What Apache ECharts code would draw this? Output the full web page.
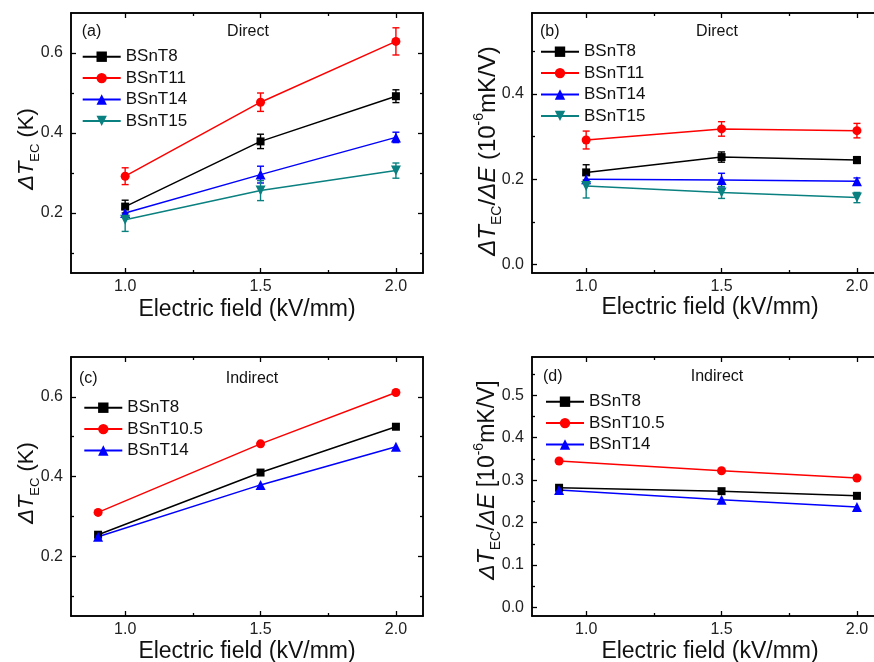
<!DOCTYPE html>
<html><head><meta charset="utf-8">
<script src="https://cdn.jsdelivr.net/npm/echarts@6/dist/echarts.min.js"></script>
<style>html,body{margin:0;padding:0;background:#fff}#c{width:874px;height:662px}</style>
</head><body><div id="c"></div>
<script>
const FONT = 'Liberation Sans, Arial, sans-serif';

// ---- data ----
const fieldDirect = [1.0, 1.5, 2.0];
const fieldIndirect = [0.9, 1.5, 2.0];

// (a) direct ΔT (K) and error
const dT_BSnT8 = [0.216, 0.379, 0.492];
const dT_BSnT8_err = [0.016, 0.018, 0.016];
const dT_BSnT11 = [0.292, 0.477, 0.629];
const dT_BSnT11_err = [0.021, 0.023, 0.034];
const dT_BSnT14 = [0.200, 0.296, 0.389];
const dT_BSnT14_err = [0.010, 0.021, 0.013];
const dT_BSnT15 = [0.183, 0.256, 0.306];
const dT_BSnT15_err = [0.029, 0.025, 0.019];

// (b) direct ΔT/ΔE and error
const r_BSnT8 = [0.216, 0.252, 0.245];
const r_BSnT8_err = [0.018, 0.012, 0.008];
const r_BSnT11 = [0.292, 0.318, 0.314];
const r_BSnT11_err = [0.021, 0.017, 0.017];
const r_BSnT14 = [0.200, 0.198, 0.195];
const r_BSnT14_err = [0.010, 0.016, 0.008];
const r_BSnT15 = [0.184, 0.169, 0.157];
const r_BSnT15_err = [0.028, 0.014, 0.012];

// (c) indirect ΔT (K)
const ind_dT_BSnT8 = [0.254, 0.410, 0.525];
const ind_dT_BSnT105 = [0.310, 0.482, 0.611];
const ind_dT_BSnT14 = [0.249, 0.379, 0.475];

// (d) indirect ΔT/ΔE
const ind_r_BSnT8 = [0.282, 0.274, 0.263];
const ind_r_BSnT105 = [0.345, 0.322, 0.305];
const ind_r_BSnT14 = [0.277, 0.254, 0.237];

// tick values
const xMajor = [1.0, 1.5, 2.0];
const xMinor = [1.25, 1.75];
const yMajorA = [0.2, 0.4, 0.6];
const yMinorA = [0.1, 0.3, 0.5];
const yMajorB = [0.0, 0.2, 0.4];
const yMinorB = [0.1, 0.3, 0.5];
const yMajorD = [0.0, 0.1, 0.2, 0.3, 0.4, 0.5];
const yMinorD = [0.05, 0.15, 0.25, 0.35, 0.45, 0.55];

// ---- styles ----
const STY = {
  BSnT8: {color: '#000000', symbol: 'rect', size: 8, rot: 0},
  BSnT11: {color: '#ff0000', symbol: 'circle', size: 9, rot: 0},
  'BSnT10.5': {color: '#ff0000', symbol: 'circle', size: 9, rot: 0},
  BSnT14: {color: '#0000ff', symbol: 'triangle', size: 10, rot: 0},
  BSnT15: {color: '#0a8080', symbol: 'triangle', size: 10, rot: 180}
};

// right-hand panels are cut by the picture edge (axis would end at 2.1 beyond it)
const grids = [
  {left: 71, top: 13, width: 352, height: 260},
  {left: 532, top: 13, width: 342, height: 260},
  {left: 71, top: 357, width: 352, height: 259},
  {left: 532, top: 357, width: 342, height: 259}
];
const xRanges = [[0.8, 2.1], [0.8, 2.063], [0.8, 2.1], [0.8, 2.063]];
const yRanges = [[0.05, 0.70], [-0.02, 0.59], [0.05, 0.70], [-0.02, 0.59]];
const yTicks = [[yMajorA, yMinorA], [yMajorB, yMinorB], [yMajorA, yMinorA], [yMajorD, yMinorD]];
const hasRight = [true, false, true, false];

const xAxes = [], yAxes = [];
function axis(g, pos, min, max, vals, len, labels, showLine) {
  return {
    type: 'value', gridIndex: g, position: pos, min: min, max: max,
    axisLine: {show: showLine !== false, onZero: false, lineStyle: {color: '#000', width: 1.5}},
    axisTick: {show: showLine !== false, inside: true, length: len, customValues: vals, lineStyle: {color: '#000', width: 1.3}},
    axisLabel: labels ? {show: true, customValues: vals, formatter: v => v.toFixed(1), fontSize: 16,
      color: '#222', fontFamily: FONT, margin: pos === 'left' ? 8 : 6} : {show: false},
    splitLine: {show: false}
  };
}
grids.forEach((gr, g) => {
  const xr = xRanges[g];
  xAxes.push(axis(g, 'bottom', xr[0], xr[1], xMajor, 5, true));
  xAxes.push(axis(g, 'bottom', xr[0], xr[1], xMinor, 3, false));
  xAxes.push(axis(g, 'top', xr[0], xr[1], xMajor, 5, false));
  xAxes.push(axis(g, 'top', xr[0], xr[1], xMinor, 3, false));
  const yr = yRanges[g], yt = yTicks[g];
  yAxes.push(axis(g, 'left', yr[0], yr[1], yt[0], 5, true));
  yAxes.push(axis(g, 'left', yr[0], yr[1], yt[1], 3, false));
  yAxes.push(axis(g, 'right', yr[0], yr[1], yt[0], 5, false, hasRight[g]));
  yAxes.push(axis(g, 'right', yr[0], yr[1], yt[1], 3, false, hasRight[g]));
});

const series = [];
function addLine(g, name, xs, ys, errs) {
  const s = STY[name];
  series.push({
    type: 'line', name: name, xAxisIndex: 4 * g, yAxisIndex: 4 * g,
    data: xs.map((x, i) => [x, ys[i]]),
    symbol: s.symbol, symbolSize: s.size, symbolRotate: s.rot, showSymbol: true,
    lineStyle: {color: s.color, width: 1.5}, itemStyle: {color: s.color},
    emphasis: {disabled: true}, animation: false, z: 3
  });
  if (errs) {
    series.push({
      type: 'custom', name: name + ' err', xAxisIndex: 4 * g, yAxisIndex: 4 * g,
      data: xs.map((x, i) => [x, ys[i], errs[i]]),
      encode: {x: 0, y: 1},
      renderItem: function (params, api) {
        const x = api.value(0), y = api.value(1), e = api.value(2);
        const t = api.coord([x, y + e]), b = api.coord([x, y - e]);
        const w = 3.5;
        const st = {stroke: s.color, lineWidth: 1.4};
        return {type: 'group', children: [
          {type: 'line', shape: {x1: t[0], y1: t[1], x2: b[0], y2: b[1]}, style: st},
          {type: 'line', shape: {x1: t[0] - w, y1: t[1], x2: t[0] + w, y2: t[1]}, style: st},
          {type: 'line', shape: {x1: b[0] - w, y1: b[1], x2: b[0] + w, y2: b[1]}, style: st}
        ]};
      },
      animation: false, z: 2, silent: true
    });
  }
}
addLine(0, 'BSnT8', fieldDirect, dT_BSnT8, dT_BSnT8_err);
addLine(0, 'BSnT11', fieldDirect, dT_BSnT11, dT_BSnT11_err);
addLine(0, 'BSnT14', fieldDirect, dT_BSnT14, dT_BSnT14_err);
addLine(0, 'BSnT15', fieldDirect, dT_BSnT15, dT_BSnT15_err);
addLine(1, 'BSnT8', fieldDirect, r_BSnT8, r_BSnT8_err);
addLine(1, 'BSnT11', fieldDirect, r_BSnT11, r_BSnT11_err);
addLine(1, 'BSnT14', fieldDirect, r_BSnT14, r_BSnT14_err);
addLine(1, 'BSnT15', fieldDirect, r_BSnT15, r_BSnT15_err);
addLine(2, 'BSnT8', fieldIndirect, ind_dT_BSnT8);
addLine(2, 'BSnT10.5', fieldIndirect, ind_dT_BSnT105);
addLine(2, 'BSnT14', fieldIndirect, ind_dT_BSnT14);
addLine(3, 'BSnT8', fieldIndirect, ind_r_BSnT8);
addLine(3, 'BSnT10.5', fieldIndirect, ind_r_BSnT105);
addLine(3, 'BSnT14', fieldIndirect, ind_r_BSnT14);

function legend(left, top, names) {
  return {
    orient: 'vertical', left: left, top: top, padding: 0, itemGap: 0,
    itemWidth: 38, itemHeight: 13, selectedMode: false,
    textStyle: {fontSize: 17, lineHeight: 21.4, color: '#111', fontFamily: FONT},
    data: names
  };
}
const legends = [
  legend(81.7, 46, ['BSnT8', 'BSnT11', 'BSnT14', 'BSnT15']),
  legend(540, 41, ['BSnT8', 'BSnT11', 'BSnT14', 'BSnT15']),
  legend(83.3, 397, ['BSnT8', 'BSnT10.5', 'BSnT14']),
  legend(545, 391, ['BSnT8', 'BSnT10.5', 'BSnT14'])
];

function makeRich(fs) {
  const ss = Math.round(fs * 0.6);
  return {
    it: {fontSize: fs, fontStyle: 'italic', fontFamily: FONT, fill: '#111', lineHeight: fs + 8},
    n: {fontSize: fs, fontFamily: FONT, fill: '#111', lineHeight: fs + 8},
    sub: {fontSize: ss, fontFamily: FONT, fill: '#111', lineHeight: ss, verticalAlign: 'bottom'},
    sup: {fontSize: ss, fontFamily: FONT, fill: '#111', lineHeight: ss, verticalAlign: 'top'}
  };
}
function txt(x, y, text, size, align) {
  return {type: 'text', x: x, y: y, style: {text: text, fontSize: size, fontFamily: FONT, fill: '#111',
    align: align || 'left', verticalAlign: 'middle'}};
}
function ytitle(x, y, text, fs) {
  return {type: 'text', x: x, y: y, rotation: Math.PI / 2,
    style: {text: text, rich: makeRich(fs), fontFamily: FONT, fill: '#111', align: 'center', verticalAlign: 'middle'}};
}
const graphics = [
  txt(81.7, 32, '(a)', 16), txt(248, 32, 'Direct', 16, 'center'),
  txt(540, 32, '(b)', 16), txt(717, 32, 'Direct', 16, 'center'),
  txt(79, 379, '(c)', 16), txt(252, 379, 'Indirect', 16, 'center'),
  txt(543, 377, '(d)', 16), txt(717, 377, 'Indirect', 16, 'center'),
  txt(247, 310, 'Electric field (kV/mm)', 23, 'center'),
  txt(710, 308, 'Electric field (kV/mm)', 23, 'center'),
  txt(247, 652, 'Electric field (kV/mm)', 23, 'center'),
  txt(710, 652, 'Electric field (kV/mm)', 23, 'center'),
  ytitle(27, 149, '{it|ΔT}{sub|EC}{n| (K)}', 22),
  ytitle(488, 151, '{it|ΔT}{sub|EC}{n|/}{it|ΔE}{n| (10}{sup|-6}{n|mK/V)}', 24),
  ytitle(27, 483, '{it|ΔT}{sub|EC}{n| (K)}', 22),
  ytitle(488, 480, '{it|ΔT}{sub|EC}{n|/}{it|ΔE}{n| [10}{sup|-6}{n|mK/V]}', 23)
];

const chart = echarts.init(document.getElementById('c'), null, {renderer: 'canvas'});
chart.setOption({
  backgroundColor: '#fff', animation: false,
  grid: grids, xAxis: xAxes, yAxis: yAxes, series: series, legend: legends, graphic: graphics
});
</script></body></html>
